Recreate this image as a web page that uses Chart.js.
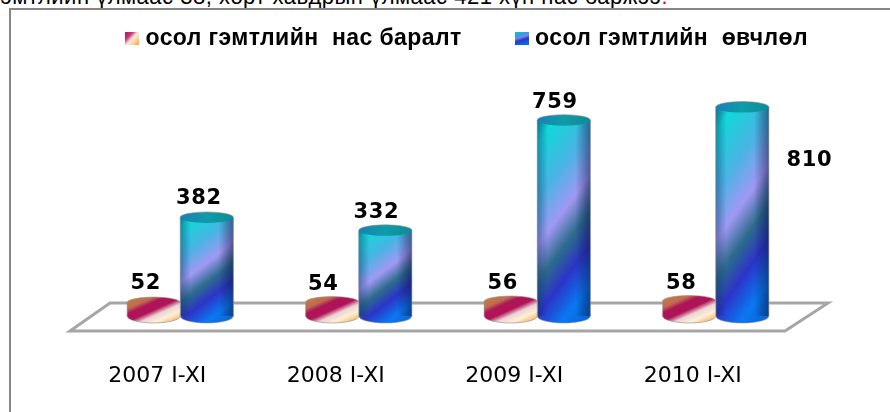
<!DOCTYPE html>
<html><head><meta charset="utf-8">
<script src="https://cdn.jsdelivr.net/npm/chart.js@4"></script>
<style>
html,body{margin:0;padding:0;background:#fff;overflow:hidden}
#wrap{position:relative;width:890px;height:412px;overflow:hidden}
#head{position:absolute;left:-8px;top:-16px;font:22px "Liberation Sans",sans-serif;letter-spacing:.5px;color:#000;white-space:nowrap}
#head span{color:#e00}
#frame{position:absolute;left:9px;top:8px;width:900px;height:430px;border:2px solid #868686;box-sizing:border-box}
canvas{position:absolute;left:0;top:0}
</style></head><body>
<div id="wrap">
<div id="head">гэмтлийн үлмаас 38, хөрт хавдрын үлмаас 421 хүн нас баржээ<span>.</span></div>
<div id="frame"></div>
<canvas id="c" width="890" height="412"></canvas>
</div>
<script>
const categories = ['2007 I-XI', '2008 I-XI', '2009 I-XI', '2010 I-XI'];
const deaths = [52, 54, 56, 58];
const injured = [382, 332, 759, 810];
const seriesNames = ['осол гэмтлийн  нас баралт', 'осол гэмтлийн  өвчлөл'];

const GROUP = 0.595, CAP = 5.5, FOOT = 7;
const tallStops = [[0,'#0f9aa8'],[.1,'#10d8d8'],[.3,'#48b4e4'],[.47,'#a098f4'],[.6,'#2c6c8c'],[.72,'#2c34c8'],[.86,'#0a78f2'],[1,'#0862d0']];
const discStops = [[0,'#c8843c'],[.24,'#c06a50'],[.34,'#b01458'],[.5,'#b01458'],[.62,'#ecd4d4'],[.76,'#fdf0d8'],[.92,'#f6b860'],[1,'#f0a040']];

function geom(chart, di, i, value) {
  const xs = chart.scales.x, ys = chart.scales.y;
  const w = xs.width / categories.length * GROUP / 2;
  const x = xs.getPixelForValue(i) + (di === 0 ? -w/2 : w/2);
  return {x, w, top: ys.getPixelForValue(value), base: ys.getPixelForValue(0)};
}
function fillFor(ctx, g, slope, stops) {
  const t = g.top - CAP, b = g.base + FOOT, h = b - t;
  const len = Math.hypot(slope, 1), ux = slope/len, uy = 1/len;
  const span = g.w*ux + h*uy, cy = (t+b)/2;
  const lg = ctx.createLinearGradient(g.x - ux*span/2, cy - uy*span/2, g.x + ux*span/2, cy + uy*span/2);
  stops.forEach(s => lg.addColorStop(s[0], s[1]));
  return lg;
}
function slopeFor(di, g) {
  return di === 0 ? 0.45 : 0.74 + Math.max(0, g.base - g.top - 98) * 0.006;
}
function barFill(c) {
  if (c.type !== 'data') return '#888';
  const g = geom(c.chart, c.datasetIndex, c.dataIndex, c.raw);
  const di = c.datasetIndex;
  return fillFor(c.chart.ctx, g, slopeFor(di, g), di === 0 ? discStops : tallStops);
}
function swatch(stops, x1, y1) {
  const cv = document.createElement('canvas'); cv.width = 14; cv.height = 13;
  const k = cv.getContext('2d');
  const lg = k.createLinearGradient(0, 0, x1, y1);
  stops.forEach(s => lg.addColorStop(s[0], s[1]));
  k.fillStyle = lg; k.fillRect(0, 0, 14, 13);
  return cv;
}
const swatches = [
  swatch([[0,'#b01458'],[.3,'#c83870'],[.5,'#f8e8e0'],[.7,'#f8d8a0'],[1,'#f4a030']], 14, 13),
  swatch([[0,'#10c4d8'],[.3,'#30a0e0'],[.5,'#8088e0'],[.72,'#2838c8'],[1,'#0868e0']], 4, 13)
];

const scene = {
  id: 'scene',
  beforeLayout(chart) {
    const lg = chart.legend;
    if (lg._wrapped) return;
    lg._wrapped = true;
    const fit = lg.fit, draw = lg.draw;
    lg.fit = function() {
      const k = this.ctx; k.save(); k.letterSpacing = '0.4px';
      this.maxWidth = 900;
      fit.call(this); k.restore();
      this.height = 40;
    };
    lg.draw = function() {
      const k = this.ctx; k.save(); k.letterSpacing = '0.4px';
      k.translate(21, -31);
      const b = this.bottom, l = this.left, r = this.right;
      this.bottom = this.top + 160; this.left = 0; this.right = 896;
      draw.call(this);
      this.bottom = b; this.left = l; this.right = r;
      k.restore();
    };
  },
  beforeDatasetsDraw(chart) {
    const {ctx, chartArea: a, scales: {y}} = chart;
    const b = y.getPixelForValue(0);
    ctx.save();
    ctx.strokeStyle = '#a6a6a6'; ctx.lineWidth = 3;
    ctx.beginPath();
    ctx.moveTo(a.left - 21, b + 15); ctx.lineTo(a.left + 19, b - 13);
    ctx.lineTo(a.right + 23, b - 13); ctx.lineTo(a.right - 20, b + 15); ctx.closePath();
    ctx.stroke();
    ctx.restore();
  },
  beforeDatasetDraw(chart, args) {
    const {ctx} = chart, di = args.index, vals = chart.data.datasets[di].data;
    const stops = di === 0 ? discStops : tallStops;
    ctx.save();
    vals.forEach((v, i) => {
      const g = geom(chart, di, i, v);
      ctx.fillStyle = fillFor(ctx, g, slopeFor(di, g), stops);
      ctx.strokeStyle = 'rgba(140,140,140,.6)'; ctx.lineWidth = 1;
      ctx.beginPath(); ctx.ellipse(g.x, g.base, g.w/2, FOOT, 0, 0, Math.PI*2); ctx.fill(); ctx.stroke();
    });
    ctx.restore();
  },
  afterDatasetDraw(chart, args) {
    const {ctx} = chart, di = args.index, vals = chart.data.datasets[di].data;
    const stops = di === 0 ? discStops : tallStops;
    ctx.save();
    vals.forEach((v, i) => {
      const g = geom(chart, di, i, v), l = g.x - g.w/2, r = g.x + g.w/2;
      if (di === 1) {
        const h = g.base - g.top;
        const sh = ctx.createLinearGradient(l, 0, r, 0);
        sh.addColorStop(0,'rgba(10,40,90,.4)'); sh.addColorStop(.2,'rgba(10,40,90,0)');
        sh.addColorStop(.72,'rgba(10,20,60,0)'); sh.addColorStop(1,'rgba(10,20,60,.5)');
        ctx.fillStyle = sh; ctx.fillRect(l, g.top, g.w, h);
        const cap = ctx.createLinearGradient(l, 0, r, 0);
        cap.addColorStop(0,'#1880b8'); cap.addColorStop(.5,'#0e9ca8'); cap.addColorStop(1,'#0c8c98');
        ctx.fillStyle = cap;
      } else {
        ctx.fillStyle = fillFor(ctx, g, slopeFor(di, g), stops);
      }
      ctx.strokeStyle = 'rgba(140,140,140,.6)'; ctx.lineWidth = 1;
      ctx.beginPath(); ctx.moveTo(l, g.top); ctx.lineTo(l, g.base); ctx.moveTo(r, g.top); ctx.lineTo(r, g.base); ctx.stroke();
      ctx.beginPath(); ctx.ellipse(g.x, g.top, g.w/2, CAP, 0, 0, Math.PI*2); ctx.fill();
      ctx.beginPath(); ctx.ellipse(g.x, g.top, g.w/2, CAP, 0, Math.PI, Math.PI*2); ctx.stroke();
    });
    ctx.restore();
  }
};
const valueLabels = {
  id: 'valueLabels',
  afterDraw(chart, args, opts) {
    const {ctx} = chart;
    ctx.save();
    ctx.font = opts.font; ctx.fillStyle = '#000';
    ctx.textAlign = 'center'; ctx.textBaseline = 'middle';
    ctx.letterSpacing = '0.6px';
    chart.data.datasets.forEach((ds, di) => {
      chart.getDatasetMeta(di).data.forEach((el, i) => {
        const off = opts.offsets[di][i];
        ctx.fillText(String(ds.data[i]), el.x + off[0], el.y + off[1]);
      });
    });
    ctx.restore();
  }
};
new Chart(document.getElementById('c'), {
  type: 'bar',
  data: {
    labels: categories,
    datasets: [
      {label: seriesNames[0], data: deaths, backgroundColor: barFill},
      {label: seriesNames[1], data: injured, backgroundColor: barFill}
    ]
  },
  plugins: [scene, valueLabels],
  options: {
    responsive: false, animation: false,
    categoryPercentage: GROUP, barPercentage: 1,
    layout: {padding: {left: 91, right: 85, top: 0, bottom: 0}},
    scales: {
      x: {grid: {display: false}, border: {display: false},
          afterFit(s) { s.height = 96; },
          ticks: {font: {family: '"DejaVu Sans"', size: 22}, color: '#000', padding: 39,
                  labelOffset: -23, autoSkip: false, maxRotation: 0}},
      y: {display: false, min: 0, max: 1070}
    },
    plugins: {
      tooltip: {enabled: false},
      legend: {
        display: true, position: 'top', align: 'center',
        labels: {
          font: {family: '"Liberation Sans"', size: 23, weight: 'bold'}, color: '#000',
          usePointStyle: true, pointStyleWidth: 4, boxHeight: 13, padding: 58,
          generateLabels() {
            return seriesNames.map((n, i) => ({
              text: n, datasetIndex: i, lineWidth: 0, strokeStyle: 'transparent',
              fillStyle: 'transparent', pointStyle: swatches[i]
            }));
          }
        }
      },
      valueLabels: {
        font: 'bold 21px "DejaVu Sans"',
        offsets: [[[-8,-19],[-9,-18],[-8,-18],[-8,-17]], [[-8,-19],[-9,-18],[-9,-18],[67,53]]]
      }
    }
  }
});
</script>
</body></html>
